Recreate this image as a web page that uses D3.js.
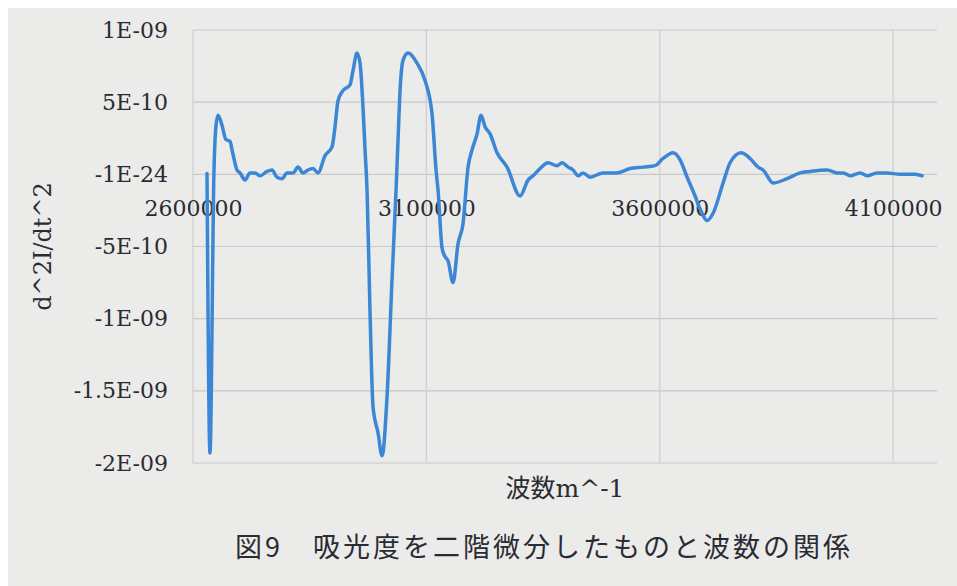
<!DOCTYPE html>
<html>
<head>
<meta charset="utf-8">
<script src="https://cdn.jsdelivr.net/npm/d3@7"></script>
<style>
  html, body { margin: 0; padding: 0; background: #ffffff; }
  svg { display: block; }
</style>
</head>
<body>
<div id="chart"></div>
<script>
// wavenumber (m^-1) and second derivative
var wavenumber = [
  2630000, 2636400, 2645000, 2649300, 2653600, 2662100, 2670700, 2679300, 2683600, 2694300,
  2700700, 2711400, 2722100, 2732900, 2743600, 2758600, 2769300, 2780000, 2790700, 2801400,
  2814300, 2825000, 2835700, 2846400, 2857100, 2867900, 2882900, 2897900, 2904300, 2910700,
  2921400, 2936400, 2942900, 2951400, 2957900, 2964300, 2968600, 2972900, 2979300, 2985700,
  2996400, 3005000, 3015700, 3026400, 3035000, 3039300, 3043600, 3050000, 3060700, 3080000,
  3097100, 3112100, 3120700, 3125000, 3133600, 3140000, 3146400, 3157100, 3167900, 3178600,
  3189300, 3197900, 3208600, 3217100, 3225700, 3236400, 3251400, 3272900, 3300700, 3317900,
  3328600, 3343600, 3360700, 3380000, 3390700, 3403600, 3414300, 3425000, 3435700, 3450700,
  3478600, 3508600, 3536400, 3564300, 3590000, 3607100, 3628600, 3643600, 3658600, 3675700,
  3686400, 3701400, 3714300, 3735700, 3750700, 3774300, 3793600, 3810700, 3821400, 3842900,
  3872900, 3900700, 3922100, 3958600, 3980000, 3992900, 4007900, 4029300, 4044300, 4065700,
  4087100, 4115000, 4142900, 4162100
];
var d2I = [
  0.05e-10, -19.3e-10, 0.3e-10, 3.4e-10, 4.1e-10, 3.4e-10, 2.4e-10, 2.3e-10, 1.7e-10, 0.3e-10,
  0.1e-10, -0.4e-10, 0.1e-10, 0.1e-10, -0.1e-10, 0.2e-10, 0.3e-10, -0.2e-10, -0.3e-10, 0.1e-10,
  0.1e-10, 0.5e-10, 0.1e-10, 0.3e-10, 0.4e-10, 0.1e-10, 1.3e-10, 1.9e-10, 3.3e-10, 5.1e-10,
  5.8e-10, 6.2e-10, 7.2e-10, 8.4e-10, 7.7e-10, 4.6e-10, 1.7e-10, -1.1e-10, -9.6e-10, -16.1e-10,
  -17.9e-10, -19.5e-10, -15.4e-10, -7.3e-10, -1.1e-10, 2.4e-10, 5.8e-10, 7.9e-10, 8.4e-10, 7.7e-10,
  6.5e-10, 4.2e-10, 0.3e-10, -1.1e-10, -5.1e-10, -5.7e-10, -6.0e-10, -7.5e-10, -4.8e-10, -3.4e-10,
  0.5e-10, 1.7e-10, 2.8e-10, 4.1e-10, 3.3e-10, 2.8e-10, 1.5e-10, 0.5e-10, -1.5e-10, -0.4e-10,
  -0.1e-10, 0.4e-10, 0.8e-10, 0.6e-10, 0.8e-10, 0.5e-10, 0.3e-10, -0.1e-10, 0.1e-10, -0.2e-10,
  0.1e-10, 0.1e-10, 0.4e-10, 0.5e-10, 0.6e-10, 1.1e-10, 1.5e-10, 1.0e-10, -0.2e-10, -1.5e-10,
  -2.4e-10, -3.2e-10, -2.7e-10, -0.6e-10, 0.8e-10, 1.5e-10, 1.1e-10, 0.5e-10, 0.3e-10, -0.6e-10,
  -0.3e-10, 0.1e-10, 0.2e-10, 0.3e-10, 0.1e-10, 0.1e-10, -0.1e-10, 0.1e-10, -0.1e-10, 0.1e-10,
  0.1e-10, 0.0, 0.0, -0.1e-10
];

var yTicks = [1e-9, 5e-10, 0, -5e-10, -1e-9, -1.5e-9, -2e-9];
var yTickLabels = ["1E-09", "5E-10", "-1E-24", "-5E-10", "-1E-09", "-1.5E-09", "-2E-09"];
var xTicks = [2600000, 3100000, 3600000, 4100000];
var xTickLabels = ["2600000", "3100000", "3600000", "4100000"];
var xTitle = "波数m^-1";
var yTitle = "d^2I/dt^2";
var caption = "図9\u3000吸光度を二階微分したものと波数の関係";

var width = 957, height = 586;
var margin = {top: 30, right: 20, bottom: 123, left: 193};
var plotW = 937 - margin.left, plotH = 463 - margin.top;
var serif = "'DejaVu Serif', 'Liberation Serif', serif";

var svg = d3.select("#chart").append("svg")
    .attr("width", width)
    .attr("height", height);

// scanned paper background
svg.append("rect")
    .attr("x", 8).attr("y", 8)
    .attr("width", width - 8).attr("height", height - 8)
    .attr("fill", "#ebebea");

var g = svg.append("g")
    .attr("transform", "translate(" + margin.left + "," + margin.top + ")");

var x = d3.scaleLinear().domain([2600000, 4194000]).range([0, plotW]);
var y = d3.scaleLinear().domain([-2e-9, 1e-9]).range([plotH, 0]);

// grid
g.append("g").selectAll("line.h")
    .data(yTicks).enter().append("line")
    .attr("x1", 0).attr("x2", plotW)
    .attr("y1", function(d) { return y(d); })
    .attr("y2", function(d) { return y(d); })
    .attr("stroke", "#c9c9c9")
    .attr("stroke-width", 1.2);

g.append("g").selectAll("line.v")
    .data(xTicks).enter().append("line")
    .attr("y1", 0).attr("y2", plotH)
    .attr("x1", function(d) { return x(d); })
    .attr("x2", function(d) { return x(d); })
    .attr("stroke", "#cdcdcd")
    .attr("stroke-width", 1.2);

// y axis labels
var yAxis = g.append("g")
    .call(d3.axisLeft(y)
        .tickValues(yTicks)
        .tickSize(0)
        .tickPadding(25)
        .tickFormat(function(d, i) { return yTickLabels[i]; }));
yAxis.select(".domain").remove();
yAxis.selectAll("text")
    .attr("font-family", serif)
    .attr("font-size", 22)
    .attr("fill", "#2b2b33");

// x axis labels sit under the zero line
var xAxis = g.append("g")
    .attr("transform", "translate(0," + y(0) + ")")
    .call(d3.axisBottom(x)
        .tickValues(xTicks)
        .tickSize(0)
        .tickPadding(26)
        .tickFormat(function(d, i) { return xTickLabels[i]; }));
xAxis.select(".domain").remove();
xAxis.selectAll("text")
    .attr("font-family", serif)
    .attr("font-size", 22)
    .attr("fill", "#2b2b33");

// the curve
var pts = wavenumber.map(function(w, i) { return [w, d2I[i]]; });
var line = d3.line()
    .x(function(d) { return x(d[0]); })
    .y(function(d) { return y(d[1]); })
    .curve(d3.curveMonotoneX);

g.append("path")
    .datum(pts)
    .attr("d", line)
    .attr("fill", "none")
    .attr("stroke", "#3b87d6")
    .attr("stroke-width", 3.5)
    .attr("stroke-linejoin", "round")
    .attr("stroke-linecap", "round");

// titles
svg.append("text")
    .attr("transform", "translate(51," + (margin.top + plotH / 2) + ") rotate(-90)")
    .attr("text-anchor", "middle")
    .attr("font-family", serif)
    .attr("font-size", 24)
    .attr("fill", "#2b2b33")
    .text(yTitle);

svg.append("text")
    .attr("x", margin.left + plotW / 2)
    .attr("y", 497)
    .attr("text-anchor", "middle")
    .attr("font-family", serif + ", 'Noto Sans CJK JP'")
    .attr("font-size", 25)
    .attr("fill", "#2b2b33")
    .text(xTitle);

svg.append("text")
    .attr("x", 544)
    .attr("y", 557)
    .attr("text-anchor", "middle")
    .attr("font-family", "'Noto Sans CJK JP', sans-serif")
    .attr("font-size", 27)
    .attr("letter-spacing", 3)
    .attr("fill", "#2b2b33")
    .text(caption);
</script>
</body>
</html>
